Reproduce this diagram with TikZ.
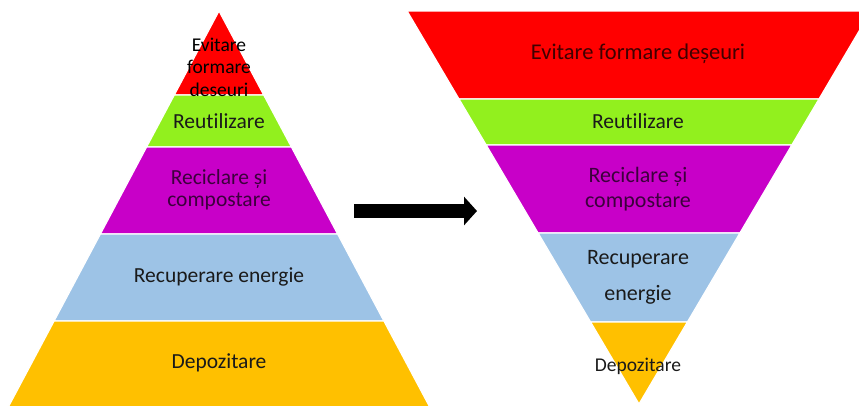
\documentclass[tikz,border=0pt]{standalone}
\usepackage{fontspec}
\setmainfont{Carlito}[Ligatures=NoCommon]
\usetikzlibrary{arrows.meta}
\definecolor{cred}{HTML}{FF0000}
\definecolor{cgreen}{HTML}{92F01E}
\definecolor{cpurple}{HTML}{C800C8}
\definecolor{cblue}{HTML}{9DC3E6}
\definecolor{corange}{HTML}{FFC000}
\definecolor{tdark}{HTML}{1A1A1A}
\definecolor{tpurple}{HTML}{3C003C}
\definecolor{tred}{HTML}{400000}
\begin{document}
\begin{tikzpicture}[x=1pt,y=-1pt,
  band/.style={draw=white,line width=1.2pt,line join=miter},
  lbl/.style={inner sep=0pt,align=center,text=tdark,font=\fontsize{21.5}{25}\selectfont}]
\useasboundingbox (0,0) rectangle (859,405);
\fill[white] (0,0) rectangle (859,405);
% left pyramid
\path[band,fill=cred] (219,11) -- (263.7,95) -- (174.3,95) -- cycle;
\path[band,fill=cgreen] (174.3,95) -- (263.7,95) -- (291.4,147) -- (146.6,147) -- cycle;
\path[band,fill=cpurple] (146.6,147) -- (291.4,147) -- (337.6,234) -- (100.4,234) -- cycle;
\path[band,fill=cblue] (100.4,234) -- (337.6,234) -- (383.9,321) -- (54.1,321) -- cycle;
\path[band,fill=corange] (54.1,321) -- (383.9,321) -- (431.3,410) -- (6.7,410) -- cycle;
% right inverted pyramid
\path[band,fill=cred] (407.1,11) -- (870.9,11) -- (819,99) -- (459,99) -- cycle;
\path[band,fill=cgreen] (459,99) -- (819,99) -- (791.8,145) -- (486.2,145) -- cycle;
\path[band,fill=cpurple] (486.2,145) -- (791.8,145) -- (739.9,233) -- (538.1,233) -- cycle;
\path[band,fill=cblue] (538.1,233) -- (739.9,233) -- (687.4,322) -- (590.6,322) -- cycle;
\path[band,fill=corange] (590.6,322) -- (687.4,322) -- (639,404) -- cycle;
% left labels
\node[lbl,font=\fontsize{19.5}{22.5}\selectfont,text=black] (l1) at (219,67) {Evitare\\formare\\deseuri};
\node[lbl] (l2) at (219,121) {Reutilizare};
\node[lbl,text=tpurple,font=\fontsize{21.5}{22.5}\selectfont] (l3) at (219,190) {Reciclare și\\compostare};
\node[lbl] (l4) at (219,277) {Recuperare energie};
\node[lbl] (l5) at (219,363) {Depozitare};
% right labels
\node[lbl,text=tred,font=\fontsize{22.5}{24}\selectfont] (r1) at (638,54) {Evitare formare deșeuri};
\node[lbl] (r2) at (638,121) {Reutilizare};
\node[lbl,text=tpurple,font=\fontsize{22}{25}\selectfont] (r3) at (638,189) {Reciclare și\\compostare};
\node[lbl,font=\fontsize{22}{36}\selectfont] (r4) at (638,277) {Recuperare\\energie};
\node[lbl,font=\fontsize{19.5}{22}\selectfont] (r5) at (638,366) {Depozitare};
% arrow
\coordinate (as) at (354,211);
\coordinate (ae) at (477,211);
\draw[line width=14pt,-{Triangle[width=28pt,length=13pt]}] (as) -- (ae);
\end{tikzpicture}
\end{document}
